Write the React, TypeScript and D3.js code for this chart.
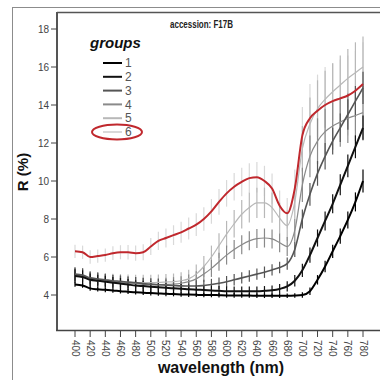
import { useEffect, useRef } from "react";
import * as d3 from "d3";

// wavelengths every 10 nm, 400..780
const wavelengths = d3.range(400, 781, 10);
const groups = ["1", "2", "3", "4", "5", "6"];
const groupColors = ["#000000", "#111111", "#555555", "#8a8a8a", "#b8b8b8", "#d9d9d9"];
const yTicks = [4, 6, 8, 10, 12, 14, 16, 18];
const xTicks = d3.range(400, 781, 20);

const mean1 = [4.55, 4.5, 4.35, 4.3, 4.27, 4.24, 4.2, 4.17, 4.14, 4.12, 4.1, 4.08, 4.06, 4.05, 4.03, 4.02, 4.01, 4.0, 4.0, 3.99, 3.98, 3.98, 3.97, 3.97, 3.96, 3.96, 3.96, 3.96, 3.96, 3.97, 4.0, 4.2, 4.8, 5.5, 6.3, 7.1, 7.95, 8.9, 10.0];
const mean2 = [5.0, 4.95, 4.8, 4.75, 4.7, 4.65, 4.6, 4.55, 4.5, 4.47, 4.44, 4.41, 4.38, 4.35, 4.33, 4.3, 4.28, 4.26, 4.24, 4.22, 4.2, 4.2, 4.2, 4.2, 4.2, 4.22, 4.25, 4.32, 4.45, 4.75, 5.3, 6.1, 7.0, 7.9, 8.8, 9.8, 10.8, 11.8, 12.8];
const mean3 = [5.1, 5.05, 4.9, 4.85, 4.8, 4.75, 4.72, 4.68, 4.65, 4.6, 4.57, 4.54, 4.52, 4.5, 4.48, 4.47, 4.47, 4.5, 4.55, 4.62, 4.7, 4.8, 4.9, 5.0, 5.1, 5.2, 5.32, 5.45, 5.65, 6.4, 8.0, 9.3, 10.4, 11.3, 12.1, 12.8, 13.5, 14.2, 14.9];
const mean4 = [5.05, 5.0, 4.85, 4.8, 4.75, 4.7, 4.67, 4.63, 4.6, 4.57, 4.55, 4.55, 4.56, 4.58, 4.62, 4.7, 4.85, 5.1, 5.4, 5.75, 6.1, 6.4, 6.65, 6.85, 6.97, 7.0, 6.95, 6.75, 6.55, 7.4, 9.8, 11.3, 12.1, 12.6, 12.9, 13.1, 13.3, 13.45, 13.6];
const mean5 = [5.0, 4.95, 4.8, 4.75, 4.72, 4.7, 4.68, 4.66, 4.65, 4.65, 4.65, 4.66, 4.68, 4.7, 4.75, 4.85, 5.1, 5.5, 6.0, 6.6, 7.2, 7.75, 8.25, 8.6, 8.85, 8.85, 8.6, 8.05, 7.65, 8.9, 11.7, 13.0, 13.8, 14.3, 14.7, 15.05, 15.4, 15.7, 16.0];
const mean6 = [6.3, 6.25, 6.0, 6.05, 6.1, 6.2, 6.25, 6.25, 6.2, 6.25, 6.55, 6.85, 7.0, 7.15, 7.3, 7.5, 7.7, 8.0, 8.4, 8.9, 9.35, 9.7, 9.95, 10.15, 10.2, 10.0, 9.6, 8.7, 8.3, 9.6, 12.4, 13.3, 13.7, 14.0, 14.2, 14.35, 14.5, 14.75, 15.1];

const err1 = [0.12, 0.12, 0.12, 0.12, 0.12, 0.12, 0.12, 0.12, 0.12, 0.12, 0.12, 0.12, 0.12, 0.12, 0.12, 0.12, 0.12, 0.12, 0.12, 0.12, 0.12, 0.12, 0.12, 0.12, 0.12, 0.12, 0.12, 0.12, 0.12, 0.12, 0.15, 0.2, 0.25, 0.3, 0.35, 0.4, 0.45, 0.5, 0.6];
const err2 = [0.35, 0.35, 0.33, 0.32, 0.31, 0.3, 0.3, 0.29, 0.28, 0.28, 0.27, 0.27, 0.26, 0.26, 0.25, 0.25, 0.25, 0.25, 0.25, 0.25, 0.25, 0.25, 0.25, 0.25, 0.25, 0.25, 0.25, 0.26, 0.27, 0.3, 0.35, 0.4, 0.45, 0.5, 0.5, 0.55, 0.6, 0.6, 0.65];
const err3 = [0.35, 0.35, 0.34, 0.33, 0.32, 0.32, 0.31, 0.3, 0.3, 0.3, 0.3, 0.3, 0.3, 0.3, 0.3, 0.3, 0.3, 0.3, 0.3, 0.3, 0.3, 0.3, 0.3, 0.3, 0.3, 0.3, 0.3, 0.3, 0.32, 0.4, 0.5, 0.6, 0.65, 0.7, 0.7, 0.75, 0.8, 0.8, 0.85];
const err4 = [0.4, 0.4, 0.38, 0.37, 0.36, 0.35, 0.35, 0.35, 0.35, 0.35, 0.35, 0.35, 0.35, 0.36, 0.37, 0.38, 0.4, 0.42, 0.45, 0.48, 0.5, 0.5, 0.5, 0.5, 0.5, 0.5, 0.5, 0.5, 0.5, 0.6, 0.9, 1.1, 1.2, 1.2, 1.25, 1.3, 1.3, 1.35, 1.4];
const err5 = [0.45, 0.45, 0.44, 0.43, 0.42, 0.42, 0.42, 0.42, 0.42, 0.42, 0.42, 0.42, 0.42, 0.43, 0.45, 0.48, 0.5, 0.55, 0.6, 0.65, 0.7, 0.72, 0.75, 0.78, 0.8, 0.8, 0.8, 0.8, 0.8, 0.9, 1.2, 1.4, 1.5, 1.5, 1.5, 1.55, 1.55, 1.6, 1.6];
const err6 = [0.35, 0.35, 0.35, 0.35, 0.35, 0.36, 0.37, 0.38, 0.4, 0.42, 0.45, 0.48, 0.5, 0.52, 0.55, 0.58, 0.6, 0.62, 0.65, 0.68, 0.7, 0.72, 0.75, 0.78, 0.8, 0.8, 0.8, 0.8, 0.8, 1.0, 1.5, 1.8, 1.9, 2.0, 2.0, 2.05, 2.1, 2.1, 2.2];

const means = [mean1, mean2, mean3, mean4, mean5, mean6];
const errors = [err1, err2, err3, err4, err5, err6];

export default function App() {
  const svgRef = useRef<SVGSVGElement>(null);

  useEffect(() => {
    const svg = d3.select(svgRef.current);
    svg.selectAll("*").remove();

    const x = d3.scaleLinear().domain([400, 780]).range([75, 363]);
    const y = d3.scaleLinear().domain([4, 18]).range([295, 29]);
    const font = "'Liberation Sans', Arial, sans-serif";

    // frames
    svg.append("rect").attr("x", 12.5).attr("y", 7.5).attr("width", 400).attr("height", 400)
      .attr("fill", "none").attr("stroke", "#8c8c8c");
    svg.append("line").attr("x1", 57).attr("x2", 380).attr("y1", 12.5).attr("y2", 12.5)
      .attr("stroke", "#555").attr("stroke-width", 1.5);
    svg.append("line").attr("x1", 57).attr("x2", 57).attr("y1", 12).attr("y2", 330)
      .attr("stroke", "#555").attr("stroke-width", 2);
    svg.append("line").attr("x1", 56).attr("x2", 380).attr("y1", 330.5).attr("y2", 330.5)
      .attr("stroke", "#444").attr("stroke-width", 1.5);

    // y axis
    const yg = svg.append("g");
    yTicks.forEach((t) => {
      yg.append("line").attr("x1", 51).attr("x2", 57).attr("y1", y(t)).attr("y2", y(t))
        .attr("stroke", "#444");
      yg.append("text").attr("x", 49).attr("y", y(t)).attr("dy", "0.35em")
        .attr("text-anchor", "end").attr("font-family", font).attr("font-size", 10)
        .attr("fill", "#444").text(t);
    });

    // x axis
    const xg = svg.append("g");
    xTicks.forEach((t) => {
      xg.append("line").attr("x1", x(t)).attr("x2", x(t)).attr("y1", 330).attr("y2", 337)
        .attr("stroke", "#444");
      xg.append("text").attr("transform", `translate(${x(t)},340) rotate(90)`)
        .attr("dy", "0.35em").attr("font-family", font).attr("font-size", 10)
        .attr("fill", "#444").text(t);
    });

    // error bars, light groups first
    for (let g = 5; g >= 0; g--) {
      svg.append("g").selectAll("line")
        .data(wavelengths)
        .join("line")
        .attr("x1", (w) => x(w)).attr("x2", (w) => x(w))
        .attr("y1", (_, i) => y(means[g][i] - errors[g][i]))
        .attr("y2", (_, i) => y(means[g][i] + errors[g][i]))
        .attr("stroke", groupColors[g]).attr("stroke-width", 1.2);
    }

    // mean lines
    const line = d3.line<number>()
      .x((_, i) => x(wavelengths[i]))
      .y((v) => y(v))
      .curve(d3.curveMonotoneX);
    for (let g = 4; g >= 0; g--) {
      svg.append("path").attr("d", line(means[g])).attr("fill", "none")
        .attr("stroke", groupColors[g]).attr("stroke-width", g < 2 ? 2 : g === 2 ? 1.6 : 1.2);
    }
    // group 6 traced in red
    svg.append("path").attr("d", line(mean6)).attr("fill", "none")
      .attr("stroke", "#c0282d").attr("stroke-width", 2);

    // titles
    svg.append("text").attr("x", 170).attr("y", 28)
      .attr("font-family", font).attr("textLength", 63).attr("lengthAdjust", "spacingAndGlyphs")
      .attr("font-weight", "bold").attr("font-size", 10).attr("fill", "#222")
      .text("accession: F17B");
    svg.append("text").attr("x", 221).attr("y", 373).attr("text-anchor", "middle")
      .attr("font-family", font).attr("font-weight", "bold").attr("font-size", 16)
      .attr("fill", "#111").text("wavelength (nm)");
    svg.append("text").attr("transform", "translate(28,172) rotate(-90)")
      .attr("text-anchor", "middle").attr("font-family", font).attr("font-weight", "bold")
      .attr("font-size", 15).attr("fill", "#111").text("R (%)");

    // legend
    const lg = svg.append("g");
    lg.append("text").attr("x", 90).attr("y", 48).attr("font-family", font)
      .attr("font-weight", "bold").attr("font-style", "italic").attr("font-size", 15)
      .attr("fill", "#111").text("groups");
    groups.forEach((name, i) => {
      const ly = 63 + i * 13.8;
      lg.append("line").attr("x1", 103).attr("x2", 122).attr("y1", ly).attr("y2", ly)
        .attr("stroke", groupColors[i]).attr("stroke-width", 2);
      lg.append("text").attr("x", 125).attr("y", ly).attr("dy", "0.35em")
        .attr("font-family", font).attr("font-size", 12).attr("fill", "#555").text(name);
    });
    lg.append("ellipse").attr("cx", 117).attr("cy", 132).attr("rx", 25).attr("ry", 7.5)
      .attr("fill", "none").attr("stroke", "#c0282d").attr("stroke-width", 2);
  }, []);

  return (
    <svg
      ref={svgRef}
      width={380}
      height={380}
      style={{ position: "absolute", left: 0, top: 0, background: "#fff" }}
    />
  );
}
